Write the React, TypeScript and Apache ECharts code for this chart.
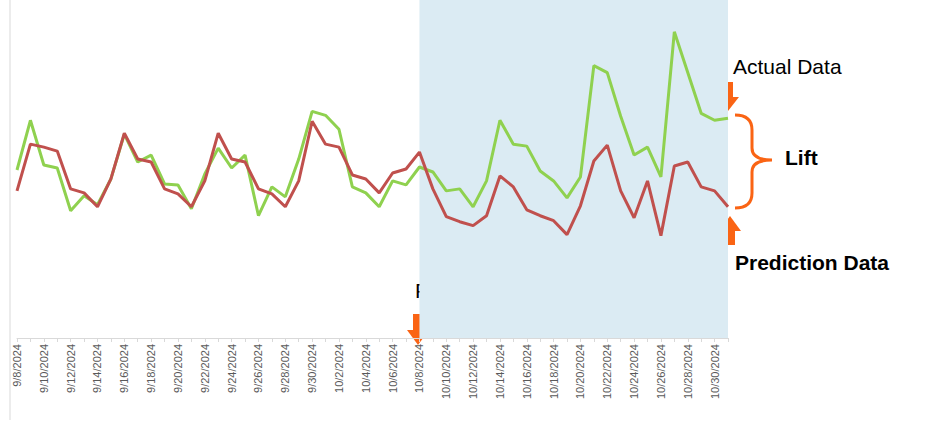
import { useRef, useEffect } from "react";
import * as echarts from "echarts";

const dates: string[] = [];
for (let d = 8; d <= 30; d++) dates.push(`9/${d}/2024`);
for (let d = 1; d <= 31; d++) dates.push(`10/${d}/2024`);

// values read as (340 - pixel y) off the reference
const actual = [
  169, 219, 174, 171, 128, 143, 134, 160, 205, 177, 184, 155, 154, 130, 165, 191, 171, 184, 123, 152, 142, 180, 228, 224, 210, 152, 146, 132, 158, 154,
  172, 167, 148, 150, 132, 158, 219, 195, 193, 168, 158, 141, 162, 274, 267, 223, 184, 192, 162, 308, 267, 226, 219, 221,
];
const prediction = [
  148, 195, 192, 188, 150, 146, 132, 160, 206, 180, 177, 150, 145, 132, 158, 206, 180, 177, 150, 145, 132, 158, 218, 195, 192, 164, 160, 146, 166, 170,
  187, 150, 122, 117, 113, 123, 163, 152, 129, 123, 118, 104, 133, 178, 194, 148, 121, 158, 103, 173, 177, 152, 148, 132,
];

const ORANGE = "#fa6414";

const bracePath =
  "M735,115 Q752,115 752,130 L752,148 Q752,160 772,160 Q752,160 752,172 L752,193 Q752,208 735,208";
echarts.graphic.registerShape("brace", echarts.graphic.extendPath(bracePath, {}) as any);

export default function App() {
  const chartRef = useRef<HTMLDivElement>(null);

  useEffect(() => {
    if (!chartRef.current) return;
    const chart = echarts.init(chartRef.current, null, { renderer: "svg" });

    chart.setOption({
      animation: false,
      grid: { left: 17, right: 208, top: 0, bottom: 84 },
      xAxis: {
        type: "category",
        data: dates,
        boundaryGap: false,
        axisLine: { lineStyle: { color: "#d9d9d9" } },
        axisTick: { show: true, interval: 0, length: 4, lineStyle: { color: "#d9d9d9" } },
        axisLabel: { rotate: 90, interval: 1, color: "#595959", fontSize: 11, fontFamily: "Liberation Sans", margin: 6 },
      },
      yAxis: { type: "value", min: 0, max: 340, show: false },
      series: [
        {
          type: "line",
          data: actual,
          symbol: "none",
          lineStyle: { color: "#8fd14f", width: 3 },
          markArea: {
            silent: true,
            itemStyle: { color: "#dbebf3" },
            data: [[{ xAxis: "10/8/2024" }, { xAxis: "10/31/2024" }]],
          },
          z: 3,
        },
        {
          type: "line",
          data: prediction,
          symbol: "none",
          lineStyle: { color: "#c0504d", width: 3 },
          z: 4,
        },
      ],
      graphic: [
        { type: "line", shape: { x1: 10, y1: 0, x2: 10, y2: 420 }, style: { stroke: "#d9d9d9", lineWidth: 1 } },
        { type: "text", left: 733, top: 56, style: { text: "Actual Data", fontSize: 21, fontFamily: "Liberation Sans", fill: "#000" } },
        { type: "rect", shape: { x: 723, y: 82, width: 10, height: 15 }, style: { fill: ORANGE } },
        { type: "polygon", shape: { points: [[717, 97], [739, 97], [728, 111]] }, style: { fill: ORANGE } },
        { type: "brace", x: 0, y: 0, style: { stroke: ORANGE, lineWidth: 3, fill: "none" } } as any,
        { type: "text", left: 785, top: 147, style: { text: "Lift", fontSize: 21, fontWeight: "bold", fontFamily: "Liberation Sans", fill: "#000" } },
        { type: "polygon", shape: { points: [[719, 231], [741, 231], [730, 216]] }, style: { fill: ORANGE } },
        { type: "rect", shape: { x: 725, y: 231, width: 10, height: 14 }, style: { fill: ORANGE } },
        { type: "text", left: 735, top: 252, style: { text: "Prediction Data", fontSize: 21, fontWeight: "bold", fontFamily: "Liberation Sans", fill: "#000" } },
        { type: "text", left: 415, top: 280, style: { text: "Feature Launch", fontSize: 21, fontFamily: "Liberation Sans", fill: "#000" } },
        { type: "rect", shape: { x: 413, y: 314, width: 10, height: 16 }, style: { fill: ORANGE } },
        { type: "polygon", shape: { points: [[407, 330], [429, 330], [418, 345]] }, style: { fill: ORANGE } },
      ],
    });

    return () => chart.dispose();
  }, []);

  return (
    <div
      ref={chartRef}
      style={{ position: "absolute", left: 0, top: 0, width: 936, height: 422, background: "#fff" }}
    />
  );
}
